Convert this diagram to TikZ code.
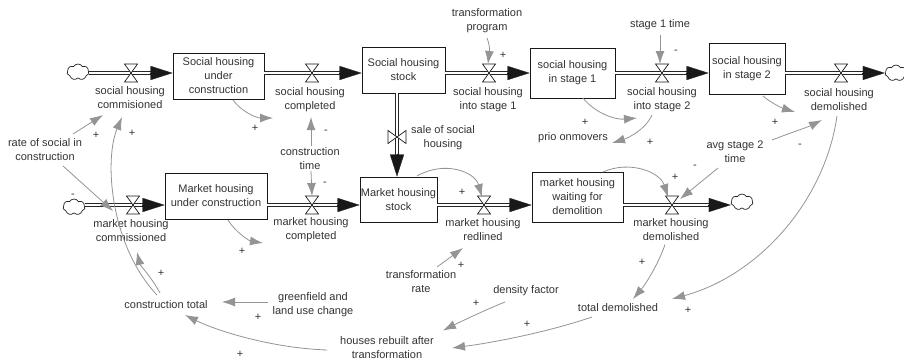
\documentclass[tikz,border=0pt]{standalone}
\usepackage{fontspec}
\setmainfont{Liberation Sans}
\usetikzlibrary{arrows.meta,calc,shapes.symbols}
\begin{document}
\begin{tikzpicture}[x=1pt,y=-1pt]
\tikzset{
 lab/.style={align=center, inner sep=1pt, text=black!80, font=\fontsize{11}{14}\selectfont},
 stock/.style={lab, draw=black!90, line width=0.9pt, inner sep=0pt},
 pipe/.style={draw=black!85, line width=0.8pt, double=white, double distance=2.6pt},
 ftip/.style={draw=black!90, line width=0.3pt, -{Triangle[length=22pt,width=14pt]}},
 info/.style={draw=black!42, line width=0.8pt, -{Latex[length=13pt,width=9pt]}},
 sign/.style={inner sep=0pt, text=black!80, font=\fontsize{11}{14}\selectfont},
 src/.style={cloud, cloud puffs=7, cloud puff arc=120, aspect=1.4, draw=black!85, line width=0.7pt, fill=white, minimum width=22pt, minimum height=16pt, inner sep=0pt},
 valve/.pic={\draw[black!90, line width=0.7pt, fill=white] (-6.5,-9) -- (6.5,-9) -- (-6.5,9) -- (6.5,9) -- cycle;}
}
\fill[white] (0,0) rectangle (904,359);
\useasboundingbox (0,0) rectangle (904,359);

% stocks
\node[stock, minimum width=91pt, minimum height=46pt] (suc) at (218.5,76) {Social housing\\under\\construction};
\node[stock, minimum width=83pt, minimum height=46pt] (shs) at (403.5,70) {Social housing\\stock};
\node[stock, minimum width=85pt, minimum height=50pt] (s1) at (572.5,73) {social housing\\in stage 1};
\node[stock, minimum width=76pt, minimum height=51pt] (s2) at (747,68.5) {social housing\\in stage 2};
\node[stock, minimum width=102pt, minimum height=46pt] (muc) at (216,196) {Market housing\\under construction};
\node[stock, minimum width=77pt, minimum height=45pt] (mhs) at (398.5,199.5) {Market housing\\stock};
\node[stock, minimum width=91pt, minimum height=50pt] (mw) at (577.5,197) {market housing\\waiting for\\demolition};

% clouds
\node[src] (c1) at (78,72) {};
\node[src] (c2) at (896,73) {};
\node[src] (c3) at (74,207) {};
\node[src] (c4) at (742,202) {};

% valves
\coordinate (v1) at (131,73);
\coordinate (v2) at (312,73);
\coordinate (v3) at (489,73);
\coordinate (v4) at (662,73);
\coordinate (v5) at (841,73);
\coordinate (v6) at (133,205);
\coordinate (v7) at (312,205);
\coordinate (v8) at (484,205);
\coordinate (v9) at (672,205);
\coordinate (v10) at (397,137);

% pipes
\draw[pipe, shorten >=20pt] (c1.east |- v1) -- (suc.west |- v1);
\draw[pipe, shorten >=20pt] (suc.east |- v2) -- (shs.west |- v2);
\draw[pipe, shorten >=20pt] (shs.east |- v3) -- (s1.west |- v3);
\draw[pipe, shorten >=20pt] (s1.east |- v4) -- (s2.west |- v4);
\draw[pipe, shorten >=20pt] (s2.east |- v5) -- (c2.west |- v5);
\draw[pipe, shorten >=20pt] (c3.east |- v6) -- (muc.west |- v6);
\draw[pipe, shorten >=20pt] (muc.east |- v7) -- (mhs.west |- v7);
\draw[pipe, shorten >=20pt] (mhs.east |- v8) -- (mw.west |- v8);
\draw[pipe, shorten >=20pt] (mw.east |- v9) -- (c4.west |- v9);
\draw[pipe, shorten >=20pt] (shs.south -| v10) -- (mhs.north -| v10);

% flow tips
\draw[ftip] ($(suc.west |- v1)+(-23,0)$) -- (suc.west |- v1);
\draw[ftip] ($(shs.west |- v2)+(-23,0)$) -- (shs.west |- v2);
\draw[ftip] ($(s1.west |- v3)+(-23,0)$) -- (s1.west |- v3);
\draw[ftip] ($(s2.west |- v4)+(-23,0)$) -- (s2.west |- v4);
\draw[ftip] ($(c2.west |- v5)+(-23,0)$) -- (c2.west |- v5);
\draw[ftip] ($(muc.west |- v6)+(-23,0)$) -- (muc.west |- v6);
\draw[ftip] ($(mhs.west |- v7)+(-23,0)$) -- (mhs.west |- v7);
\draw[ftip] ($(mw.west |- v8)+(-23,0)$) -- (mw.west |- v8);
\draw[ftip] ($(c4.west |- v9)+(-23,0)$) -- (c4.west |- v9);
\draw[ftip] ($(mhs.north -| v10)+(0,-23)$) -- (mhs.north -| v10);

% valve symbols
\foreach \v in {v1,v2,v3,v4,v5,v6,v7,v8,v9} \pic at (\v) {valve};
\pic[rotate=90] at (v10) {valve};

% flow labels
\node[lab] (l1) at (130,98) {social housing\\commisioned};
\node[lab] (l2) at (310,100) {social housing\\completed};
\node[lab] (l3) at (488,100) {social housing\\into stage 1};
\node[lab] (l4) at (662,100) {social housing\\into stage 2};
\node[lab] (l5) at (839,100) {social housing\\demolished};
\node[lab] (l6) at (131,231) {market housing\\commissioned};
\node[lab] (l7) at (311,230) {market housing\\completed};
\node[lab] (l8) at (483,230) {market housing\\redlined};
\node[lab] (l9) at (671,229.5) {market housing\\demolished};
\node[lab] (sale) at (443,138) {sale of social\\housing};

% auxiliaries
\node[lab] (rsc) at (45,150) {rate of social in\\construction};
\node[lab] (ct) at (166,305) {construction total};
\node[lab] (gf) at (313,304.5) {greenfield and\\land use change};
\node[lab] (hr) at (387,347.5) {houses rebuilt after\\transformation};
\node[lab] (tr) at (421,282) {transformation\\rate};
\node[lab] (df) at (526,291) {density factor};
\node[lab] (td) at (618,308) {total demolished};
\node[lab] (ast) at (735,152) {avg stage 2\\time};
\node[lab] (po) at (573,138) {prio onmovers};
\node[lab] (tp) at (487,21) {transformation\\program};
\node[lab] (st1) at (660,25) {stage 1 time};
\node[lab] (ctime) at (310,159) {construction\\time};

% information links
\draw[info] ($(rsc)+(28,-16)$) -- ($(l1)+(-27,17)$);
\draw[info] ($(ct)+(-9,-10)$) .. controls (110,245) and (104,160) .. ($(l1)+(-8,19)$);
\draw[info] ($(ct)+(-6,-12)$) .. controls (152,278) and (140,265) .. ($(l6)+(6,21)$);
\draw[info] ($(rsc)+(18,16)$) -- ($(l6)+(-18,-20)$);
\draw[info] ($(suc)+(14.5,24)$) .. controls (240,110) and (255,118) .. ($(l2)+(-37,18)$);
\draw[info] ($(ctime)+(1,-13)$) -- ($(l2)+(1,17)$);
\draw[info] ($(ctime)+(1,12)$) -- ($(v7)+(0,-9)$);
\draw[info] ($(muc)+(12,24)$) .. controls (236,233) and (250,241) .. ($(l7)+(-48,13)$);
\draw[info] ($(mhs)+(18.5,-23.5)$) .. controls (445,160) and (475,172) .. ($(v8)+(-2,-8)$);
\draw[info] ($(tr)+(16,-15)$) -- ($(l8)+(-20,18)$);
\draw[info] ($(mw)+(25.5,-25)$) .. controls (630,160) and (660,172) .. ($(v9)+(-4,-8)$);
\draw[info] ($(ast)+(-17,16)$) -- ($(v9)+(8,-6)$);
\draw[info] ($(ast)+(37,-12)$) .. controls (790,133) and (808,127) .. ($(l5)+(-17,20)$);
\draw[info] ($(s2)+(16,27.5)$) .. controls (772,104) and (785,109) .. ($(l5)+(-44,12)$);
\draw[info] ($(s1)+(10.5,25)$) .. controls (595,113) and (615,120) .. ($(l4)+(-25,18)$);
\draw[info] ($(l4)+(-10,15)$) .. controls (645,130) and (628,138) .. ($(po)+(39,5)$);
\draw[info] ($(tp)+(0,17)$) .. controls (491,48) and (489,55) .. ($(v3)+(-1,-9)$);
\draw[info] ($(st1)+(0,10)$) -- ($(v4)+(-2,-9)$);
\draw[info] ($(l5)+(-2,16)$) .. controls (825,200) and (760,275) .. ($(td)+(54,-9)$);
\draw[info] ($(l9)+(-6,15)$) .. controls (658,265) and (645,285) .. ($(td)+(15,-9)$);
\draw[info] ($(td)+(-26,9)$) .. controls (545,333) and (490,343) .. ($(hr)+(65,0.5)$);
\draw[info] ($(df)+(-21,11)$) .. controls (485,310) and (460,322) .. ($(hr)+(56,-17)$);
\draw[info] ($(gf)+(-45,-2.5)$) -- ($(ct)+(56,-3)$);
\draw[info] ($(hr)+(-60,2.5)$) .. controls (270,348) and (215,330) .. ($(ct)+(19,10)$);

% polarity signs
\node[sign] (p1) at (96,135) {+};
\node[sign] (p2) at (132,133) {+};
\node[sign] (p3) at (255,128) {+};
\node[sign] (p4) at (326,132) {-};
\node[sign] (p5) at (325,184) {-};
\node[sign] (p6) at (242,251) {+};
\node[sign] (p7) at (161,273) {+};
\node[sign] (p8) at (73,196) {-};
\node[sign] (p9) at (258,317) {+};
\node[sign] (p10) at (240,354) {+};
\node[sign] (p11) at (462,192) {+};
\node[sign] (p12) at (461,265) {+};
\node[sign] (p13) at (476,303) {+};
\node[sign] (p14) at (527,324) {+};
\node[sign] (p15) at (642,262) {+};
\node[sign] (p16) at (688,310) {+};
\node[sign] (p17) at (675,177) {+};
\node[sign] (p18) at (695,167) {-};
\node[sign] (p19) at (775,122) {+};
\node[sign] (p20) at (800,146) {-};
\node[sign] (p21) at (585,122) {+};
\node[sign] (p22) at (650,142) {+};
\node[sign] (p23) at (503,55) {+};
\node[sign] (p24) at (676,52) {-};
\end{tikzpicture}
\end{document}
